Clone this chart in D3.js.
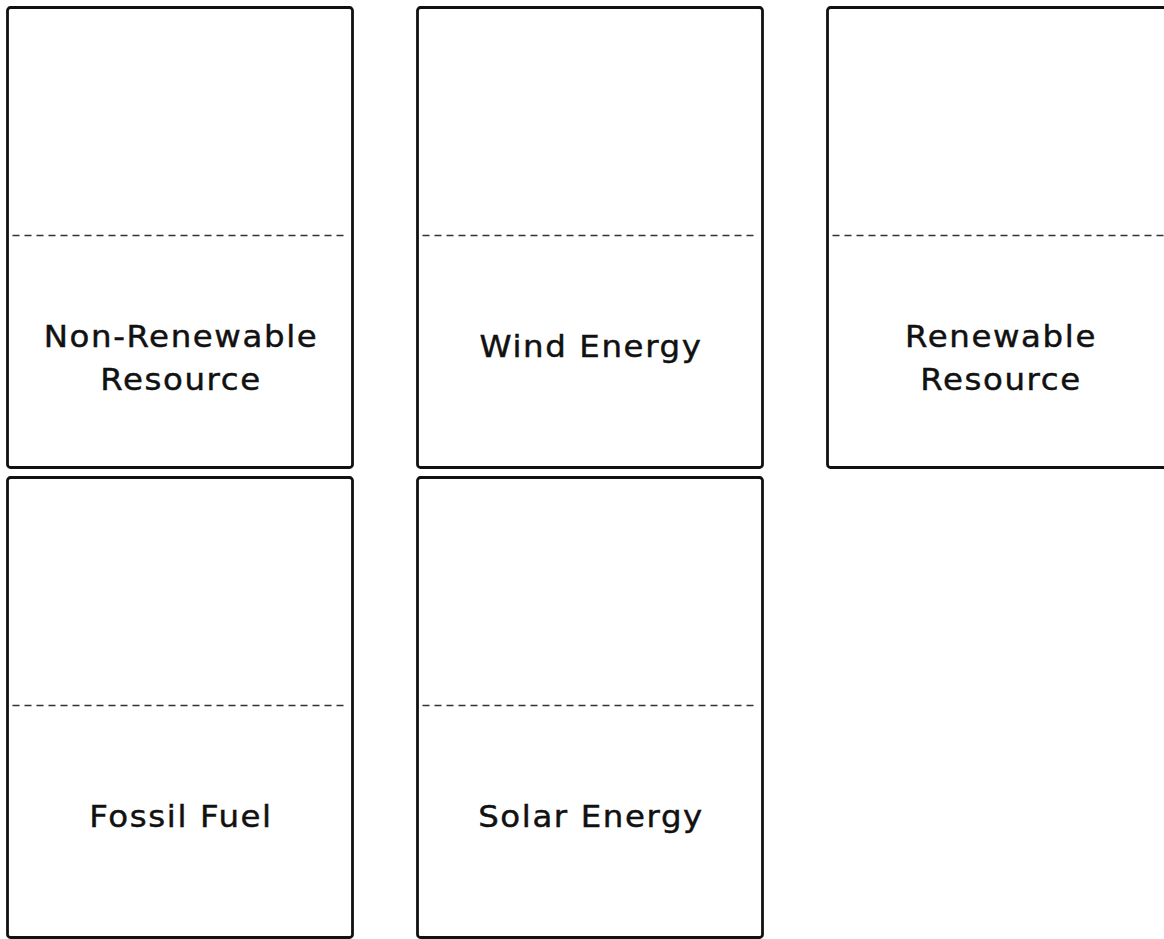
<!DOCTYPE html>
<html>
<head>
<meta charset="utf-8">
<script src="https://cdn.jsdelivr.net/npm/d3@7"></script>
<style>
  html, body { margin: 0; padding: 0; background: #fff; overflow: hidden; }
</style>
</head>
<body>
<div id="cards"></div>
<script>
// card labels, one entry per card (lines split with |)
var labels = ["Non-Renewable|Resource", "Wind Energy", "Renewable|Resource", "Fossil Fuel", "Solar Energy"];
var cols = [0, 1, 2, 0, 1];
var rows = [0, 0, 0, 1, 1];

var width = 1164;
var height = 939;
var cardW = 345;
var cardH = 460;

var svg = d3.select("#cards")
    .append("svg")
    .attr("width", width)
    .attr("height", height);

// column / row positions
var x = d3.scaleLinear().domain([0, 1]).range([7.5, 417.5]);
var y = d3.scaleLinear().domain([0, 1]).range([7.5, 477.5]);

var card = svg.selectAll(".card")
    .data(labels)
    .enter()
    .append("g")
    .attr("class", "card")
    .attr("transform", function (d, i) {
        return "translate(" + x(cols[i]) + "," + y(rows[i]) + ")";
    });

card.append("rect") // outline
    .attr("width", cardW)
    .attr("height", cardH)
    .attr("rx", 3)
    .attr("fill", "#fff")
    .attr("stroke", "#111")
    .attr("stroke-width", 2.8);

card.append("line") // fold line
    .attr("x1", 5)
    .attr("x2", cardW - 4)
    .attr("y1", 228)
    .attr("y2", 228)
    .attr("stroke", "#333")
    .attr("stroke-width", 1.4)
    .attr("stroke-dasharray", "7,5");

// wide geometric look: stretch the glyphs a bit
card.append("text")
    .attr("text-anchor", "middle")
    .attr("transform", "translate(" + (cardW / 2 + 1) + ",0) scale(1.08,1)")
    .attr("font-family", "'DejaVu Sans', sans-serif")
    .attr("font-size", 30)
    .attr("letter-spacing", 1.5)
    .attr("fill", "#111")
    .attr("stroke", "#111")
    .attr("stroke-width", 0.45)
    .each(function (d) {
        var lines = d.split("|");
        var t = d3.select(this);
        var base = lines.length > 1 ? 340 : 350;
        lines.forEach(function (l, j) {
            t.append("tspan")
                .attr("x", 0)
                .attr("y", base + j * 43)
                .text(l);
        });
    });
</script>
</body>
</html>
